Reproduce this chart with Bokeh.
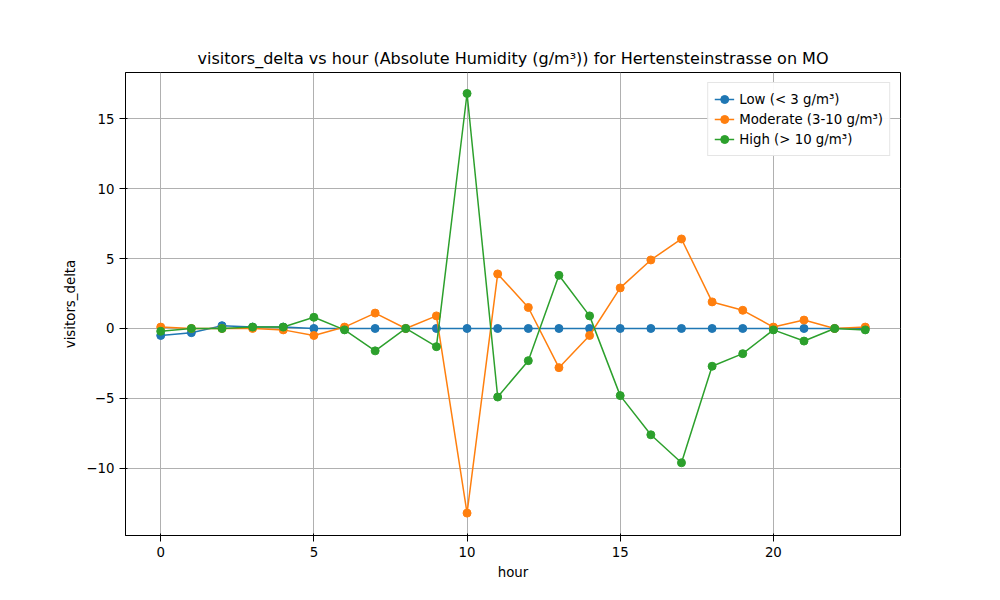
from bokeh.plotting import figure
from bokeh.embed import file_html
from bokeh.resources import INLINE
from bokeh.models import Range1d, Legend, LegendItem, FixedTicker

hours = list(range(24))
low = [-0.5,-0.3,0.2,0.1,0.1]+[0.0]*19
moderate = [0.1,0,0,0,-0.1,-0.5,0.1,1.1,0,0.9,-13.2,3.9,1.5,-2.8,-0.5,2.9,4.9,6.4,1.9,1.3,0.1,0.6,0,0.1]
high = [-0.2,0,0,0.1,0.1,0.8,-0.1,-1.6,0,-1.3,16.8,-4.9,-2.3,3.8,0.9,-4.8,-7.6,-9.6,-2.7,-1.8,-0.1,-0.9,0,-0.1]
names = ["Low (< 3 g/m³)", "Moderate (3-10 g/m³)", "High (> 10 g/m³)"]
colors = ["#1f77b4", "#ff7f0e", "#2ca02c"]

p = figure(width=984, height=584, output_backend="svg", toolbar_location=None,
           x_range=Range1d(-1.15, 24.15), y_range=Range1d(-14.8, 18.3),
           min_border_left=125, min_border_right=84, min_border_top=72, min_border_bottom=49,
           title="visitors_delta vs hour (Absolute Humidity (g/m³)) for Hertensteinstrasse on MO")
p.title.align = "center"
p.title.text_font_size = "12pt"
p.title.text_font_style = "normal"
p.title.text_font = "DejaVu Sans"
p.title.text_color = "black"
p.xaxis.axis_label = "hour"
p.yaxis.axis_label = "visitors_delta"
for ax in (p.xaxis, p.yaxis):
    ax.axis_label_text_font_style = "normal"
    ax.axis_label_text_font = "DejaVu Sans"
    ax.axis_label_text_font_size = "10pt"
    ax.axis_label_text_color = "black"
    ax.major_label_text_font = "DejaVu Sans"
    ax.major_label_text_font_size = "10pt"
    ax.major_label_text_color = "black"
    ax.minor_tick_line_color = None
p.xaxis.ticker = FixedTicker(ticks=[0,5,10,15,20])
p.yaxis.ticker = FixedTicker(ticks=[-10,-5,0,5,10,15])
p.yaxis.major_label_overrides = {-10: "−10", -5: "−5"}
p.grid.grid_line_color = "#b0b0b0"
p.outline_line_color = "black"

items = []
for n, c, d in zip(names, colors, [low, moderate, high]):
    l = p.line(hours, d, color=c, line_width=1.5)
    s = p.scatter(hours, d, color=c, size=8)
    items.append(LegendItem(label=n, renderers=[l, s]))
leg = Legend(items=items, location="top_right", label_text_font="DejaVu Sans",
             label_text_font_size="10pt", border_line_color="#cccccc", spacing=0, padding=6,
             label_text_color="black")
p.add_layout(leg)
open("out.html", "w").write(file_html(p, INLINE))
